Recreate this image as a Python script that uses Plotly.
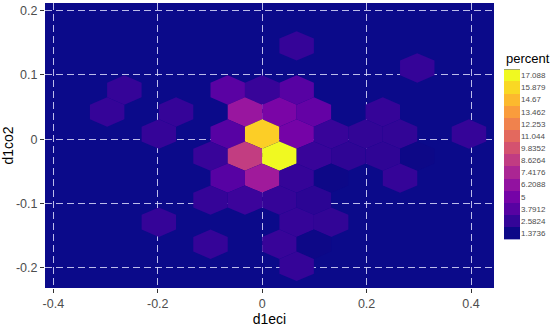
import plotly.graph_objects as go
from plotly.colors import sample_colorscale

# hex bin centres (d1eci, d1co2) and the share of observations in each bin
hex_x = [0.066,
         0.297,
         -0.264, -0.066, 0.0, 0.066,
         -0.297, -0.165, -0.033, 0.033, 0.099, 0.231,
         -0.198, -0.066, 0.0, 0.066, 0.132, 0.198, 0.264, 0.396,
         -0.099, -0.033, 0.033, 0.099, 0.165, 0.231, 0.297,
         -0.066, 0.0, 0.066, 0.132, 0.264,
         -0.099, -0.033, 0.033, 0.099,
         -0.198, 0.066, 0.132,
         -0.099, 0.033, 0.099,
         0.066]
hex_y = [0.1452,
         0.1109,
         0.0766, 0.0766, 0.0766, 0.0766,
         0.0423, 0.0423, 0.0423, 0.0423, 0.0423, 0.0423,
         0.008, 0.008, 0.008, 0.008, 0.008, 0.008, 0.008, 0.008,
         -0.0263, -0.0263, -0.0263, -0.0263, -0.0263, -0.0263, -0.0263,
         -0.0606, -0.0606, -0.0606, -0.0606, -0.0606,
         -0.0949, -0.0949, -0.0949, -0.0949,
         -0.1292, -0.1292, -0.1292,
         -0.1635, -0.1635, -0.1635,
         -0.1978]
hex_pct = [2.6,
           2.6,
           2.6, 3.9, 2.7, 3.8,
           2.6, 2.6, 6.5, 5.2, 4.3, 2.6,
           2.6, 3.8, 15.5, 5.0, 2.7, 2.5, 2.5, 2.6,
           2.7, 8.7, 17.088, 2.7, 2.4, 2.4, 1.3736,
           3.8, 6.8, 2.6, 1.3736, 2.6,
           2.6, 2.8, 2.6, 2.3,
           2.6, 2.6, 2.5,
           2.6, 2.7, 1.3736,
           2.6]

legend_labels = ["1.3736", "2.5824", "3.7912", "5", "6.2088", "7.4176", "8.6264",
                 "9.8352", "11.044", "12.253", "13.462", "14.67", "15.879", "17.088"]
x_ticks = [-0.4, -0.2, 0, 0.2, 0.4]
x_tick_text = ["-0.4", "-0.2", "0", "0.2", "0.4"]
y_ticks = [-0.2, -0.1, 0, 0.1, 0.2]
y_tick_text = ["-0.2", "-0.1", "0", "0.1", "0.2"]

BW_X = 0.066    # hex width
BW_Y = 0.0343   # row spacing
PANEL = "#0b0a8a"
FONT = "Liberation Sans"
W, H = 550, 328
ML, MT, MB = 45, 3, 40
PW, PH = W - ML, H - MT - MB   # paper area in px


def px_x(p):
    return (p - ML) / PW


def px_y(p):
    return (H - MB - p) / PH


lo, hi = float(legend_labels[0]), float(legend_labels[-1])


def plasma(v):
    t = min(max((v - lo) / (hi - lo), 0), 1)
    return sample_colorscale("Plasma", [t])[0]


fig = go.Figure()

for cx, cy, p in zip(hex_x, hex_y, hex_pct):
    hx = [cx, cx + BW_X / 2, cx + BW_X / 2, cx, cx - BW_X / 2, cx - BW_X / 2, cx]
    hy = [cy + 2 * BW_Y / 3, cy + BW_Y / 3, cy - BW_Y / 3, cy - 2 * BW_Y / 3,
          cy - BW_Y / 3, cy + BW_Y / 3, cy + 2 * BW_Y / 3]
    fig.add_trace(go.Scatter(x=hx, y=hy, mode="lines", fill="toself",
                             fillcolor=plasma(p), line=dict(width=0),
                             hoverinfo="text", text=f"{p}%", showlegend=False))

# colour key: one cell per legend break, like ggplot's stacked legend keys
fig.add_trace(go.Heatmap(
    x=[0], y=legend_labels, z=[[float(v)] for v in legend_labels],
    colorscale="Plasma", zmin=lo, zmax=hi, showscale=False,
    xaxis="x2", yaxis="y2", hoverinfo="skip"))

fig.add_annotation(text="percent", x=px_x(504), xref="paper", xanchor="left",
                   y=px_y(59), yref="paper", yanchor="middle",
                   showarrow=False, font=dict(size=13, color="black", family=FONT))

grid = dict(showgrid=True, gridcolor="rgba(220,220,250,0.85)", gridwidth=1.3,
            griddash="7px,4px", zeroline=False, ticks="outside", ticklen=4,
            tickcolor="#333333", tickwidth=1, automargin=False,
            tickfont=dict(size=12.5, color="#4d4d4d", family=FONT))

fig.update_layout(
    xaxis=dict(domain=[0, px_x(494)], range=[-0.416, 0.444],
               tickvals=x_ticks, ticktext=x_tick_text,
               title=dict(text="d1eci", standoff=2,
                          font=dict(size=14, color="black", family=FONT)), **grid),
    yaxis=dict(domain=[0, 1], range=[-0.2316, 0.212],
               tickvals=y_ticks, ticktext=y_tick_text,
               title=dict(text="d1co2", standoff=3,
                          font=dict(size=14, color="black", family=FONT)), **grid),
    xaxis2=dict(domain=[px_x(504), px_x(520)], anchor="y2", visible=False,
                fixedrange=True),
    yaxis2=dict(domain=[px_y(239.3), px_y(69.3)], anchor="x2", side="right",
                type="category", showgrid=False, zeroline=False, showline=False,
                ticks="", automargin=False, fixedrange=True,
                tickfont=dict(size=8, color="#4d4d4d", family=FONT)),
    width=W, height=H, margin=dict(l=ML, r=0, t=MT, b=MB),
    plot_bgcolor=PANEL, paper_bgcolor="white", font=dict(family=FONT),
)

# the page's default body margin would push the figure 8px off the window
fig.write_html("out.html", config={"displayModeBar": False},
               post_script="document.body.style.margin='0';")
